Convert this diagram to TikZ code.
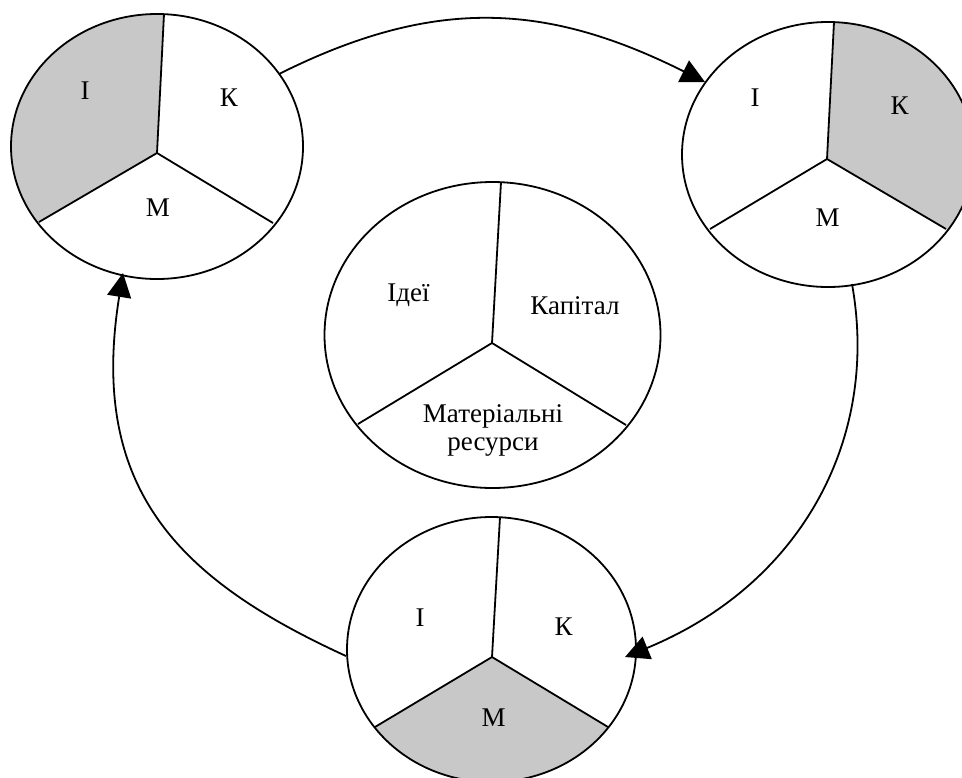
\documentclass[tikz,border=0pt]{standalone}
\usepackage{fontspec}
\setmainfont{Liberation Serif}
\usetikzlibrary{arrows.meta,shapes.geometric}
\begin{document}
\begin{tikzpicture}[x=0.5pt,y=-0.5pt,
  disc/.style={draw, line width=0.9pt, ellipse, inner sep=0pt, outer sep=0pt},
  spoke/.style={line width=0.9pt},
  shadefill/.style={fill={rgb,255:red,200;green,200;blue,200}},
  lbl/.style={font=\fontsize{13.5}{14}\selectfont, inner sep=0pt, align=center},
  flow/.style={line width=0.9pt, -{Triangle[length=12pt,width=12pt]}}]
\useasboundingbox (0,0) rectangle (962,777);

% shaded sectors
\begin{scope}
  \clip (157,146.5) ellipse [x radius=146, y radius=132.5];
  \fill[shadefill] (157,153) -- (165.7,-20) -- (-40,-20) -- (-40,268) -- cycle;
\end{scope}
\begin{scope}
  \clip (828,154.5) ellipse [x radius=146, y radius=132.5];
  \fill[shadefill] (827,159) -- (836,-20) -- (1000,-20) -- (1000,261) -- cycle;
\end{scope}
\begin{scope}
  \clip (491.5,649.5) ellipse [x radius=144.5, y radius=132.5];
  \fill[shadefill] (492,657) -- (253,800) -- (729,800) -- cycle;
\end{scope}

% discs
\node[disc, minimum width=146pt, minimum height=132.5pt] (tl) at (157,146.5) {};
\node[disc, minimum width=146pt, minimum height=132.5pt] (tr) at (828,154.5) {};
\node[disc, minimum width=168pt, minimum height=153pt] (ce) at (492.5,335) {};
\node[disc, minimum width=144.5pt, minimum height=132.5pt] (bo) at (491.5,649.5) {};

% spokes
\coordinate (tlh) at (157,153);
\draw[spoke] (164,14) -- (tlh) -- (39,222); \draw[spoke] (tlh) -- (273,223);
\coordinate (trh) at (827,159);
\draw[spoke] (834,22) -- (trh) -- (710,229); \draw[spoke] (trh) -- (946,229);
\coordinate (ceh) at (492,343);
\draw[spoke] (501,182) -- (ceh) -- (358,424); \draw[spoke] (ceh) -- (626,425);
\coordinate (boh) at (492,657);
\draw[spoke] (500,517) -- (boh) -- (375,727); \draw[spoke] (boh) -- (608,727);

% labels
\node[lbl] (tlI) at (85,90.5) {І};
\node[lbl] (tlK) at (229,98) {К};
\node[lbl] (tlM) at (158,208) {М};
\node[lbl] (trI) at (755,98) {І};
\node[lbl] (trK) at (899.5,105.5) {К};
\node[lbl] (trM) at (827.5,217.5) {М};
\node[lbl] (ceI) at (408.5,295) {Ідеї};
\node[lbl] (ceK) at (575,305.5) {Капітал};
\node[lbl] (ceM) at (493,430) {Матеріальні\\ресурси};
\node[lbl] (boI) at (420,618) {І};
\node[lbl] (boK) at (563.5,627) {К};
\node[lbl] (boM) at (493.5,718) {М};

% connectors
\coordinate (a1s) at (279,74);  \coordinate (a1e) at (705,82);
\coordinate (a2s) at (852,284); \coordinate (a2e) at (625,657);
\coordinate (a3s) at (346,656); \coordinate (a3e) at (123,273);
\draw[flow] (a1s) .. controls (435,-4) and (547,3) .. (a1e);
\draw[flow] (a2s) .. controls (880,440) and (800,585) .. (a2e);
\draw[flow] (a3s) .. controls (180,580) and (88,490) .. (a3e);
\end{tikzpicture}
\end{document}
